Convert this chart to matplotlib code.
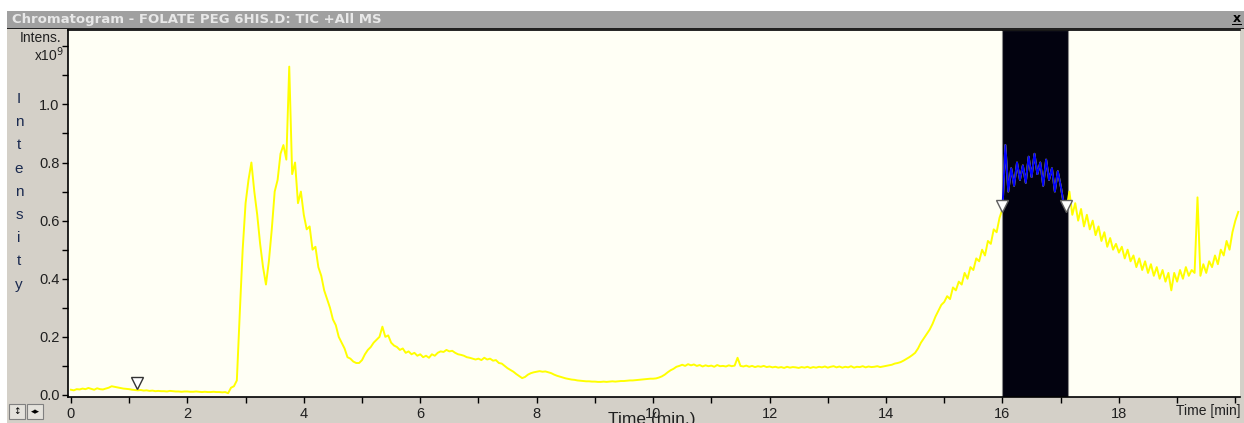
import numpy as np
import matplotlib
matplotlib.use("Agg")
import matplotlib.pyplot as plt
from matplotlib.patches import Rectangle

# ---------------- data ----------------
sample_step_min = 0.05  # sampling interval of the trace, minutes
intensity_e9 = [
    # 0 min
    0.018,0.016,0.020,0.019,0.022,0.020,0.024,0.021,0.018,0.023,0.020,0.019,0.022,0.025,0.030,0.028,0.026,0.024,0.022,0.021,
    # 1 min
    0.020,0.018,0.017,0.016,0.017,0.015,0.016,0.014,0.015,0.013,0.014,0.013,0.013,0.012,0.014,0.013,0.012,0.012,0.011,0.012,
    # 2 min
    0.012,0.011,0.011,0.012,0.011,0.010,0.011,0.010,0.010,0.011,0.010,0.010,0.009,0.010,0.006,0.025,0.030,0.050,0.280,0.500,
    # 3 min
    0.66,0.74,0.80,0.70,0.62,0.52,0.44,0.38,0.46,0.57,0.70,0.74,0.83,0.86,0.81,1.13,0.76,0.80,0.66,0.70,
    # 4 min
    0.62,0.57,0.58,0.50,0.51,0.44,0.41,0.36,0.33,0.30,0.26,0.24,0.20,0.18,0.16,0.13,0.125,0.115,0.110,0.110,
    # 5 min
    0.120,0.140,0.155,0.165,0.180,0.190,0.200,0.235,0.200,0.205,0.180,0.170,0.165,0.155,0.160,0.145,0.150,0.140,0.145,0.135,
    # 6 min
    0.140,0.130,0.135,0.128,0.140,0.135,0.145,0.150,0.148,0.155,0.150,0.152,0.145,0.140,0.138,0.135,0.130,0.128,0.125,0.122,
    # 7 min
    0.125,0.120,0.128,0.122,0.125,0.118,0.120,0.110,0.108,0.100,0.092,0.086,0.080,0.072,0.065,0.058,0.062,0.070,0.075,0.078,
    # 8 min
    0.080,0.082,0.080,0.081,0.078,0.075,0.070,0.066,0.063,0.060,0.057,0.055,0.053,0.052,0.050,0.049,0.048,0.047,0.047,0.046,
    # 9 min
    0.046,0.045,0.045,0.046,0.045,0.046,0.047,0.046,0.047,0.048,0.048,0.049,0.050,0.050,0.051,0.052,0.053,0.054,0.055,0.056,
    # 10 min
    0.056,0.057,0.060,0.064,0.070,0.078,0.085,0.090,0.097,0.100,0.104,0.100,0.106,0.102,0.105,0.100,0.103,0.098,0.102,0.099,
    # 11 min
    0.101,0.097,0.103,0.099,0.100,0.098,0.102,0.099,0.101,0.128,0.100,0.098,0.101,0.097,0.100,0.096,0.099,0.097,0.100,0.096,
    # 12 min
    0.098,0.095,0.097,0.094,0.096,0.093,0.097,0.094,0.096,0.095,0.093,0.096,0.094,0.097,0.093,0.096,0.094,0.097,0.095,0.098,
    # 13 min
    0.094,0.097,0.099,0.095,0.098,0.094,0.097,0.095,0.099,0.094,0.097,0.096,0.099,0.095,0.098,0.096,0.097,0.099,0.096,0.098,
    # 14 min
    0.100,0.102,0.104,0.108,0.110,0.113,0.118,0.124,0.130,0.137,0.145,0.160,0.180,0.195,0.210,0.225,0.245,0.270,0.290,0.310,
    # 15 min
    0.32,0.34,0.33,0.37,0.36,0.39,0.38,0.42,0.40,0.44,0.43,0.47,0.46,0.50,0.48,0.53,0.52,0.57,0.56,0.61,
    # 16 min
    0.64,0.86,0.70,0.78,0.72,0.80,0.74,0.79,0.73,0.82,0.75,0.83,0.76,0.80,0.72,0.81,0.74,0.78,0.70,0.77,
    # 17 min
    0.72,0.66,0.64,0.70,0.62,0.66,0.60,0.64,0.58,0.62,0.57,0.60,0.55,0.58,0.53,0.56,0.51,0.54,0.50,0.52,
    # 18 min
    0.49,0.51,0.47,0.50,0.46,0.48,0.44,0.47,0.43,0.46,0.42,0.45,0.41,0.44,0.40,0.43,0.39,0.42,0.36,0.42,
    # 19 min
    0.39,0.43,0.40,0.44,0.41,0.43,0.42,0.68,0.41,0.45,0.42,0.46,0.44,0.48,0.45,0.50,0.48,0.53,0.50,0.56,
    # 20 min
    0.60,0.63,
]
selected_range_min = [16.0, 17.13]
marker_times = [16.0, 17.1]
marker_level = 0.65
start_marker_time = 1.13
start_marker_level = 0.041
x_ticks = [0, 2, 4, 6, 8, 10, 12, 14, 16, 18]
y_ticks = [0.0, 0.2, 0.4, 0.6, 0.8, 1.0]
title_text = "Chromatogram - FOLATE PEG 6HIS.D: TIC +All MS"

# ---------------- figure ----------------
W, H = 1244, 423
fig = plt.figure(figsize=(W / 100, H / 100), dpi=100, facecolor="white")
plt.rcParams["font.family"] = ["Liberation Sans", "DejaVu Sans"]

def fx(px):
    return px / W

def fy(py):
    return 1 - py / H

# window panel
fig.patches.append(Rectangle((fx(7), 0), 1 - fx(7), fy(11), transform=fig.transFigure,
                             facecolor="#d4d0c8", edgecolor="none", zorder=-10))
# title bar
fig.patches.append(Rectangle((fx(7), fy(28)), 1 - fx(7), fy(11) - fy(28), transform=fig.transFigure,
                             facecolor="#a0a0a0", edgecolor="none", zorder=-9))
fig.patches.append(Rectangle((fx(7), fy(29.5)), 1 - fx(7), fy(28) - fy(29.5), transform=fig.transFigure,
                             facecolor="#202020", edgecolor="none", zorder=-9))
fig.text(fx(12), fy(19.5), title_text, color="#e8e8e8", fontsize=9.5, fontweight="bold",
         va="center", ha="left", family=["DejaVu Sans"])
fig.text(fx(1237), fy(18), "x", color="black", fontsize=9, fontweight="bold",
         va="center", ha="center", family=["DejaVu Sans"])
fig.patches.append(Rectangle((fx(1232), fy(25)), fx(10), fy(24) - fy(25), transform=fig.transFigure,
                             facecolor="black", edgecolor="none", zorder=-8))

ax = fig.add_axes([fx(68), fy(397), fx(1240) - fx(68), fy(30) - fy(397)])
ax.set_zorder(5)
ax.set_facecolor("#fffff5")

t = np.arange(len(intensity_e9)) * sample_step_min
v = np.array(intensity_e9)

ax.axvspan(selected_range_min[0], selected_range_min[1], facecolor="#02020f",
           edgecolor="#8a8a8a", lw=0.8, zorder=1)
ax.plot(t, v, color="#ffff00", lw=1.4, zorder=2)
sel = (t >= selected_range_min[0] - 1e-9) & (t <= 17.1 + 1e-9)
ax.plot(t[sel], v[sel], color="#0000ff", lw=1.4, zorder=3)

ax.plot(marker_times, [marker_level] * len(marker_times), linestyle="none", marker="v",
        markersize=8, markerfacecolor="white", markeredgecolor="#606060", markeredgewidth=1, zorder=4)
ax.plot([start_marker_time], [start_marker_level], linestyle="none", marker="v",
        markersize=8, markerfacecolor="white", markeredgecolor="#333333", markeredgewidth=1, zorder=4)

x0, x1 = -0.05, 20.08
ax.set_xlim(x0, x1)
ax.set_ylim(-0.007, 1.256)

ax.set_xticks(x_ticks + [20])
ax.set_xticklabels([str(x) for x in x_ticks] + [""])
ax.set_xticks(np.arange(1, 20, 2), minor=True)
ax.set_yticks(y_ticks)
ax.set_yticklabels([f"{y:.1f}" for y in y_ticks])
ax.set_yticks([0.1, 0.3, 0.5, 0.7, 0.9, 1.1, 1.2], minor=True)
ax.tick_params(axis="both", which="both", direction="out", length=4, width=1, colors="black",
               labelcolor="#202020", labelsize=10.5)
ax.tick_params(axis="x", pad=3)
ax.tick_params(axis="y", pad=2)

for s in ["left", "bottom", "top"]:
    ax.spines[s].set_color("black")
    ax.spines[s].set_linewidth(1.2)
ax.spines["right"].set_visible(False)

# labels
fig.text(fx(61), fy(38), "Intens.", fontsize=10, ha="right", va="center", color="#202020")
fig.text(fx(64), fy(55), r"x10$^9$", fontsize=10, ha="right", va="center", color="#202020")
for i, ch in enumerate("Intensity"):
    fig.text(fx(19), fy(99 + i * 23.2), ch, fontsize=11, ha="center", va="center", color="#1a2a50")
fig.text(fx(1240), fy(411), "Time [min]", fontsize=10, ha="right", va="center", color="#202020")
fig.text(fx(652), fy(412), "Time (min.)", fontsize=12.5, ha="center", va="top", color="#202020")

# small navigation buttons
for (bx, sym) in [(9, "↕"), (27, "◂▸")]:
    fig.patches.append(Rectangle((fx(bx), fy(419)), fx(16), fy(404) - fy(419), transform=fig.transFigure,
                                 facecolor="#e4e2dc", edgecolor="#808080", lw=0.8, zorder=2))
    fig.text(fx(bx + 8), fy(411.5), sym, fontsize=6.5, ha="center", va="center", color="black",
             family=["DejaVu Sans"], zorder=3)

fig.savefig("out.png", dpi=100, facecolor=fig.get_facecolor())
